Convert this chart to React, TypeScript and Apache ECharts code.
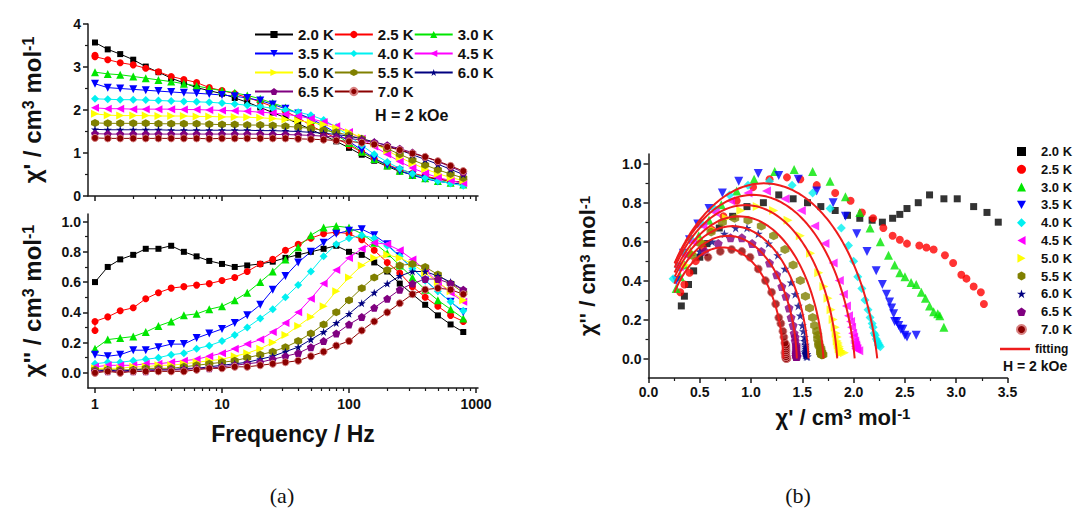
import React, { useEffect, useRef } from 'react';
import * as echarts from 'echarts';

// ac frequencies (Hz), ten points per decade
const FREQ = [1, 1.26, 1.58, 2, 2.51, 3.16, 3.98, 5.01, 6.31, 7.94, 10, 12.6, 15.8, 20, 25.1, 31.6, 39.8, 50.1, 63.1, 79.4, 100, 126, 158, 200, 251, 316, 398, 501, 631, 794];
// the 2.5 K run starts with a repeated 1 Hz point
const FREQ_25 = [1, 1, 1.26, 1.58, 2, 2.51, 3.16, 3.98, 5.01, 6.31, 7.94, 10, 12.6, 15.8, 20, 25.1, 31.6, 39.8, 50.1, 63.1, 79.4, 100, 126, 158, 200, 251, 316, 398, 501, 631, 794];

const TEMPS = ['2.0 K', '2.5 K', '3.0 K', '3.5 K', '4.0 K', '4.5 K', '5.0 K', '5.5 K', '6.0 K', '6.5 K', '7.0 K'];
const COLORS = ['#000000', '#ff0000', '#00e600', '#0000ff', '#00f0f0', '#ff00ff', '#ffff00', '#808000', '#000080', '#800080', '#8b0000'];
const SYMBOLS = [
  'rect',
  'circle',
  'triangle',
  'path://M0,0L10,0L5,9Z',
  'diamond',
  'path://M9,0L9,10L0,5Z',
  'path://M0,0L0,10L9,5Z',
  'path://M5,0L9.33,2.5L9.33,7.5L5,10L0.67,7.5L0.67,2.5Z',
  'path://M5,0L6.2,3.6L10,3.6L6.9,5.8L8.1,9.5L5,7.2L1.9,9.5L3.1,5.8L0,3.6L3.8,3.6Z',
  'path://M5,0L9.8,3.5L7.9,9.1L2.1,9.1L0.2,3.5Z',
  'circle',
];

// in-phase susceptibility chi' (cm3 mol-1)
const CHI1_20 = [3.57, 3.41, 3.30, 3.17, 3.01, 2.88, 2.74, 2.63, 2.52, 2.45, 2.38, 2.28, 2.18, 2.06, 1.94, 1.82, 1.68, 1.55, 1.41, 1.27, 1.12, 0.96, 0.82, 0.69, 0.57, 0.50, 0.44, 0.39, 0.35, 0.32];
const CHI1_25 = [3.27, 3.24, 3.17, 3.10, 3.05, 2.97, 2.89, 2.78, 2.71, 2.64, 2.52, 2.45, 2.38, 2.29, 2.19, 2.08, 1.97, 1.82, 1.64, 1.48, 1.35, 1.18, 1.02, 0.86, 0.73, 0.62, 0.53, 0.46, 0.40, 0.35, 0.31];
const CHI1_30 = [2.88, 2.84, 2.82, 2.78, 2.74, 2.70, 2.66, 2.61, 2.56, 2.50, 2.45, 2.40, 2.34, 2.26, 2.16, 2.06, 1.92, 1.77, 1.60, 1.42, 1.23, 1.03, 0.86, 0.71, 0.59, 0.49, 0.41, 0.35, 0.31, 0.27];
const CHI1_35 = [2.61, 2.52, 2.50, 2.48, 2.46, 2.44, 2.42, 2.40, 2.39, 2.37, 2.35, 2.32, 2.28, 2.22, 2.13, 2.03, 1.92, 1.80, 1.64, 1.46, 1.27, 1.07, 0.88, 0.72, 0.59, 0.48, 0.40, 0.34, 0.30, 0.27];
const CHI1_40 = [2.26, 2.25, 2.24, 2.24, 2.23, 2.22, 2.21, 2.20, 2.19, 2.18, 2.16, 2.14, 2.11, 2.08, 2.04, 2.00, 1.95, 1.88, 1.77, 1.60, 1.40, 1.18, 0.97, 0.79, 0.64, 0.52, 0.42, 0.35, 0.29, 0.24];
const CHI1_45 = [2.05, 2.03, 2.03, 2.02, 2.02, 2.02, 2.02, 2.01, 2.01, 2.00, 1.99, 1.98, 1.97, 1.95, 1.93, 1.90, 1.86, 1.80, 1.72, 1.62, 1.49, 1.33, 1.15, 0.97, 0.80, 0.65, 0.53, 0.43, 0.36, 0.30];
const CHI1_50 = [1.91, 1.88, 1.87, 1.87, 1.87, 1.86, 1.86, 1.86, 1.85, 1.85, 1.84, 1.84, 1.83, 1.82, 1.80, 1.78, 1.75, 1.71, 1.66, 1.58, 1.48, 1.36, 1.22, 1.06, 0.90, 0.76, 0.63, 0.52, 0.43, 0.36];
const CHI1_55 = [1.70, 1.69, 1.69, 1.69, 1.69, 1.68, 1.68, 1.68, 1.68, 1.67, 1.66, 1.66, 1.65, 1.65, 1.64, 1.62, 1.60, 1.57, 1.53, 1.48, 1.41, 1.33, 1.22, 1.10, 0.97, 0.84, 0.72, 0.61, 0.51, 0.42];
const CHI1_60 = [1.55, 1.54, 1.54, 1.54, 1.54, 1.54, 1.53, 1.53, 1.53, 1.53, 1.53, 1.53, 1.53, 1.52, 1.52, 1.51, 1.50, 1.48, 1.46, 1.43, 1.39, 1.33, 1.26, 1.17, 1.07, 0.96, 0.85, 0.74, 0.62, 0.50];
const CHI1_65 = [1.45, 1.44, 1.44, 1.44, 1.44, 1.44, 1.44, 1.44, 1.44, 1.44, 1.44, 1.44, 1.44, 1.44, 1.43, 1.43, 1.42, 1.41, 1.39, 1.37, 1.34, 1.30, 1.25, 1.18, 1.10, 1.01, 0.91, 0.80, 0.68, 0.55];
const CHI1_70 = [1.35, 1.34, 1.34, 1.34, 1.34, 1.34, 1.34, 1.34, 1.34, 1.33, 1.34, 1.34, 1.34, 1.34, 1.34, 1.34, 1.33, 1.32, 1.31, 1.29, 1.27, 1.24, 1.20, 1.14, 1.07, 0.99, 0.91, 0.81, 0.70, 0.58];

// out-of-phase susceptibility chi'' (cm3 mol-1)
const CHI2_20 = [0.60, 0.70, 0.75, 0.78, 0.82, 0.82, 0.84, 0.80, 0.77, 0.74, 0.72, 0.70, 0.71, 0.72, 0.735, 0.76, 0.78, 0.80, 0.82, 0.84, 0.80, 0.78, 0.73, 0.67, 0.59, 0.52, 0.45, 0.38, 0.32, 0.27];
const CHI2_25 = [0.28, 0.34, 0.37, 0.41, 0.43, 0.49, 0.53, 0.56, 0.57, 0.58, 0.59, 0.61, 0.63, 0.67, 0.72, 0.75, 0.81, 0.85, 0.89, 0.92, 0.93, 0.92, 0.88, 0.81, 0.73, 0.66, 0.57, 0.50, 0.44, 0.38, 0.34];
const CHI2_30 = [0.16, 0.22, 0.23, 0.24, 0.27, 0.31, 0.34, 0.38, 0.39, 0.42, 0.44, 0.48, 0.53, 0.60, 0.67, 0.75, 0.83, 0.91, 0.96, 0.97, 0.96, 0.92, 0.86, 0.79, 0.71, 0.63, 0.55, 0.48, 0.42, 0.36];
const CHI2_35 = [0.12, 0.11, 0.12, 0.15, 0.15, 0.17, 0.19, 0.19, 0.23, 0.26, 0.29, 0.33, 0.38, 0.45, 0.55, 0.64, 0.73, 0.80, 0.86, 0.92, 0.94, 0.95, 0.91, 0.85, 0.77, 0.69, 0.61, 0.54, 0.47, 0.40];
const CHI2_40 = [0.06, 0.07, 0.07, 0.08, 0.09, 0.10, 0.12, 0.13, 0.16, 0.18, 0.21, 0.25, 0.30, 0.36, 0.42, 0.50, 0.58, 0.67, 0.77, 0.85, 0.89, 0.91, 0.89, 0.84, 0.77, 0.69, 0.61, 0.54, 0.47, 0.41];
const CHI2_45 = [0.04, 0.05, 0.05, 0.05, 0.06, 0.06, 0.07, 0.08, 0.09, 0.11, 0.13, 0.16, 0.19, 0.22, 0.27, 0.33, 0.40, 0.49, 0.59, 0.68, 0.76, 0.82, 0.86, 0.85, 0.81, 0.75, 0.68, 0.60, 0.53, 0.47];
const CHI2_50 = [0.03, 0.03, 0.03, 0.04, 0.04, 0.05, 0.05, 0.06, 0.07, 0.08, 0.09, 0.11, 0.13, 0.16, 0.20, 0.25, 0.31, 0.37, 0.44, 0.54, 0.63, 0.71, 0.76, 0.78, 0.76, 0.72, 0.66, 0.60, 0.54, 0.48];
const CHI2_55 = [0.02, 0.02, 0.02, 0.02, 0.03, 0.03, 0.03, 0.04, 0.05, 0.06, 0.07, 0.08, 0.10, 0.12, 0.14, 0.17, 0.21, 0.26, 0.32, 0.40, 0.48, 0.56, 0.63, 0.68, 0.71, 0.72, 0.70, 0.65, 0.59, 0.53];
const CHI2_60 = [0.01, 0.02, 0.01, 0.02, 0.02, 0.02, 0.02, 0.03, 0.03, 0.04, 0.05, 0.06, 0.07, 0.09, 0.11, 0.14, 0.17, 0.22, 0.27, 0.33, 0.39, 0.46, 0.53, 0.59, 0.64, 0.67, 0.67, 0.64, 0.60, 0.55];
const CHI2_65 = [0.01, 0.01, 0.01, 0.01, 0.01, 0.02, 0.02, 0.02, 0.03, 0.03, 0.04, 0.05, 0.06, 0.07, 0.09, 0.11, 0.13, 0.17, 0.21, 0.26, 0.32, 0.37, 0.43, 0.49, 0.55, 0.59, 0.62, 0.62, 0.59, 0.55];
const CHI2_70 = [0.00, 0.01, 0.00, 0.01, 0.01, 0.01, 0.01, 0.01, 0.02, 0.03, 0.03, 0.04, 0.04, 0.05, 0.06, 0.07, 0.08, 0.11, 0.14, 0.18, 0.21, 0.28, 0.34, 0.40, 0.46, 0.52, 0.55, 0.56, 0.55, 0.52];

const FREQS = [FREQ, FREQ_25, FREQ, FREQ, FREQ, FREQ, FREQ, FREQ, FREQ, FREQ, FREQ];
const CHI1 = [CHI1_20, CHI1_25, CHI1_30, CHI1_35, CHI1_40, CHI1_45, CHI1_50, CHI1_55, CHI1_60, CHI1_65, CHI1_70];
const CHI2 = [CHI2_20, CHI2_25, CHI2_30, CHI2_35, CHI2_40, CHI2_45, CHI2_50, CHI2_55, CHI2_60, CHI2_65, CHI2_70];

// generalized Debye fit parameters (4.0 - 7.0 K)
const FIT_CHI_T = [2.23, 2.01, 1.84, 1.706, 1.56, 1.446, 1.315];
const FIT_CHI_S = [0.02, 0.03, 0.05, 0.06, 0.08, 0.10, 0.13];
const FIT_ALPHA = [0.13, 0.104, 0.081, 0.076, 0.054, 0.042, 0.024];
const FIT_CHI_END = 0.25;

// axis ticks
const LOG_MAJOR = [1, 10, 100, 1000];
const LOG_MINOR = [2, 3, 4, 5, 6, 7, 8, 9, 20, 30, 40, 50, 60, 70, 80, 90, 200, 300, 400, 500, 600, 700, 800, 900];
const CHI2_MAJOR = [0, 0.2, 0.4, 0.6, 0.8, 1.0];
const CHI2_MINOR = [0.1, 0.3, 0.5, 0.7, 0.9];

const FONT = '"Liberation Sans", Arial, Helvetica, sans-serif';
const AXIS_COLOR = '#1a1a1a';
const TITLE_Y1 = "{t|χ' / cm}{s|3}{t| mol}{s|-1}";
const TITLE_Y2 = "{t|χ'' / cm}{s|3}{t| mol}{s|-1}";

function coleColeArc(chiT: number, chiS: number, alpha: number, chiEnd: number) {
  const pts: number[][] = [];
  const beta = 1 - alpha;
  const c = Math.cos((beta * Math.PI) / 2);
  const s = Math.sin((beta * Math.PI) / 2);
  const d = chiT - chiS;
  for (let u = -9; u <= 9; u += 0.04) {
    const r = Math.exp(beta * u);
    const re = 1 + r * c;
    const im = r * s;
    const den = re * re + im * im;
    const x = chiS + (d * re) / den;
    const y = (d * im) / den;
    if (x < chiEnd) break;
    pts.push([x, y]);
  }
  return pts;
}

const titleRich = (size: number, supSize: number) => ({
  t: { fontSize: size, fontWeight: 'bold', fontFamily: FONT, color: '#111' },
  s: { fontSize: supSize, fontWeight: 'bold', fontFamily: FONT, color: '#111', verticalAlign: 'top' },
});

const labelStyle = (fmt?: (v: number) => string) => ({
  color: '#111',
  fontSize: 14,
  fontWeight: 'bold',
  fontFamily: FONT,
  formatter: fmt,
});

const axisLine = { show: true, onZero: false, lineStyle: { color: AXIS_COLOR, width: 1.5 } };

function logAxes(gridIndex: number, showLabels: boolean, name?: string) {
  const main: any = {
    type: 'log',
    logBase: 10,
    gridIndex,
    position: 'bottom',
    min: 0.881,
    max: 1037,
    axisLine,
    splitLine: { show: false },
    axisTick: { show: true, inside: false, length: 5, customValues: LOG_MAJOR, lineStyle: { color: AXIS_COLOR, width: 1.5 } },
    axisLabel: { show: showLabels, margin: 9, customValues: LOG_MAJOR, ...labelStyle((v: number) => String(Math.round(v))) },
  };
  if (name) {
    main.name = name;
    main.nameLocation = 'middle';
    main.nameGap = 34;
    main.nameTextStyle = { fontSize: 23, fontWeight: 'bold', fontFamily: FONT, color: '#111', padding: [0, 0, 0, 20] };
  }
  const minor = {
    type: 'log',
    logBase: 10,
    gridIndex,
    position: 'bottom',
    min: 0.881,
    max: 1037,
    axisLine: { show: false, onZero: false },
    splitLine: { show: false },
    axisLabel: { show: false },
    axisTick: { show: true, inside: false, length: 3, customValues: LOG_MINOR, lineStyle: { color: AXIS_COLOR, width: 1.2 } },
  };
  return [main, minor];
}

function chi2Axes(gridIndex: number, nameGap: number, size: number, supSize: number) {
  const main = {
    type: 'value',
    gridIndex,
    position: 'left',
    min: -0.1,
    max: 1.05,
    axisLine,
    splitLine: { show: false },
    axisTick: { show: true, inside: false, length: 5, customValues: CHI2_MAJOR, lineStyle: { color: AXIS_COLOR, width: 1.5 } },
    axisLabel: { margin: 7, customValues: CHI2_MAJOR, ...labelStyle((v: number) => v.toFixed(1)) },
    name: TITLE_Y2,
    nameLocation: 'middle',
    nameRotate: 90,
    nameGap,
    nameTextStyle: { rich: titleRich(size, supSize) },
  };
  const minor = {
    type: 'value',
    gridIndex,
    position: 'left',
    min: -0.1,
    max: 1.05,
    axisLine: { show: false, onZero: false },
    splitLine: { show: false },
    axisLabel: { show: false },
    axisTick: { show: true, inside: false, length: 3, customValues: CHI2_MINOR, lineStyle: { color: AXIS_COLOR, width: 1.2 } },
  };
  return [main, minor];
}

function markerStyle(i: number) {
  const style: any = { color: COLORS[i] };
  if (i === 10) {
    style.borderColor = '#d88080';
    style.borderWidth = 1;
  }
  return style;
}

function symbolSize(i: number) {
  if (SYMBOLS[i] === 'rect') return 6;
  if (SYMBOLS[i].startsWith('path') || SYMBOLS[i] === 'triangle' || SYMBOLS[i] === 'diamond') return 8;
  return 7;
}

function buildOption() {
  const series: any[] = [];

  TEMPS.forEach((name, i) => {
    series.push({
      type: 'line',
      name,
      xAxisIndex: 0,
      yAxisIndex: 0,
      data: FREQS[i].map((f, j) => [f, CHI1[i][j]]),
      symbol: SYMBOLS[i],
      symbolSize: symbolSize(i),
      itemStyle: markerStyle(i),
      lineStyle: { color: COLORS[i], width: 1 },
    });
  });

  TEMPS.forEach((name, i) => {
    series.push({
      type: 'line',
      name,
      xAxisIndex: 2,
      yAxisIndex: 1,
      data: FREQS[i].map((f, j) => [f, CHI2[i][j]]),
      symbol: SYMBOLS[i],
      symbolSize: symbolSize(i),
      itemStyle: markerStyle(i),
      lineStyle: { color: COLORS[i], width: 1 },
    });
  });

  TEMPS.forEach((name, i) => {
    series.push({
      type: 'scatter',
      name,
      xAxisIndex: 4,
      yAxisIndex: 3,
      clip: true,
      data: CHI1[i].map((v, j) => [v, CHI2[i][j]]),
      symbol: SYMBOLS[i],
      symbolSize: symbolSize(i) + 1,
      itemStyle: markerStyle(i),
    });
  });

  FIT_CHI_T.forEach((chiT, k) => {
    series.push({
      type: 'line',
      name: 'fitting',
      xAxisIndex: 4,
      yAxisIndex: 3,
      data: coleColeArc(chiT, FIT_CHI_S[k], FIT_ALPHA[k], FIT_CHI_END),
      symbol: 'none',
      showSymbol: false,
      z: 5,
      itemStyle: { color: '#ee1c1c' },
      lineStyle: { color: '#ee1c1c', width: 2 },
    });
  });

  const legendRows = [
    ['2.0 K', '2.5 K', '3.0 K'],
    ['3.5 K', '4.0 K', '4.5 K'],
    ['5.0 K', '5.5 K', '6.0 K'],
    ['6.5 K', '7.0 K'],
  ];
  const rowCenters = [30, 49, 68, 87];
  const legends: any[] = legendRows.map((row, r) => ({
    left: 249,
    top: rowCenters[r] - 8,
    orient: 'horizontal',
    itemWidth: 38,
    itemHeight: 9,
    itemGap: 0,
    selectedMode: false,
    textStyle: { fontSize: 15, fontWeight: 'bold', fontFamily: FONT, color: '#111', width: 37 },
    data: row.map((name) => ({ name })),
  }));
  legends.push({
    left: 1011,
    top: 140,
    orient: 'vertical',
    itemWidth: 9,
    itemHeight: 9,
    itemGap: 4.8,
    selectedMode: false,
    textStyle: { fontSize: 13, fontWeight: 'bold', fontFamily: FONT, color: '#111', padding: [0, 0, 0, 10] },
    data: TEMPS.map((name, i) => ({ name, icon: SYMBOLS[i] })),
  });
  legends.push({
    left: 995,
    top: 338,
    orient: 'vertical',
    itemWidth: 30,
    itemHeight: 2.5,
    selectedMode: false,
    textStyle: { fontSize: 12, fontWeight: 'bold', fontFamily: FONT, color: '#111' },
    data: [{ name: 'fitting', icon: 'rect' }],
  });

  const [x0, x1] = logAxes(0, false);
  const [x2, x3] = logAxes(1, true, 'Frequency / Hz');
  const [y1, y2] = chi2Axes(1, 44, 24, 16);
  const [y3, y4] = chi2Axes(2, 50, 22, 15);

  return {
    animation: false,
    backgroundColor: '#ffffff',
    grid: [
      { left: 88, top: 24, width: 390, height: 172 },
      { left: 88, top: 214, width: 390, height: 174 },
      { left: 648.5, top: 154, width: 359, height: 224 },
    ],
    legend: legends,
    xAxis: [
      x0,
      x1,
      x2,
      x3,
      {
        type: 'value',
        gridIndex: 2,
        position: 'bottom',
        min: 0,
        max: 3.5,
        interval: 0.5,
        axisLine,
        splitLine: { show: false },
        axisTick: { show: true, inside: false, length: 5, lineStyle: { color: AXIS_COLOR, width: 1.5 } },
        minorTick: { show: true, splitNumber: 2, length: 3, lineStyle: { color: AXIS_COLOR, width: 1.2 } },
        axisLabel: { margin: 7, ...labelStyle((v: number) => v.toFixed(1)) },
        name: TITLE_Y1,
        nameLocation: 'middle',
        nameGap: 28,
        nameTextStyle: { rich: titleRich(22, 15), padding: [0, 0, 0, 30] },
      },
    ],
    yAxis: [
      {
        type: 'value',
        gridIndex: 0,
        position: 'left',
        min: 0,
        max: 4,
        interval: 1,
        axisLine,
        splitLine: { show: false },
        axisTick: { show: true, inside: false, length: 5, lineStyle: { color: AXIS_COLOR, width: 1.5 } },
        minorTick: { show: true, splitNumber: 2, length: 3, lineStyle: { color: AXIS_COLOR, width: 1.2 } },
        axisLabel: { margin: 7, ...labelStyle((v: number) => String(v)) },
        name: TITLE_Y1,
        nameLocation: 'middle',
        nameRotate: 90,
        nameGap: 44,
        nameTextStyle: { rich: titleRich(24, 16) },
      },
      y1,
      y2,
      y3,
      y4,
    ],
    graphic: [
      { type: 'text', x: 375, y: 115, style: { text: 'H = 2 kOe', fill: '#111', font: `bold 16px ${FONT}`, textAlign: 'left', textVerticalAlign: 'middle' } },
      { type: 'text', x: 1003, y: 366, style: { text: 'H = 2 kOe', fill: '#111', font: `bold 14px ${FONT}`, textAlign: 'left', textVerticalAlign: 'middle' } },
      { type: 'text', x: 282, y: 495, style: { text: '(a)', fill: '#111', font: '22px "Liberation Serif", "Times New Roman", serif', textAlign: 'center', textVerticalAlign: 'middle' } },
      { type: 'text', x: 798, y: 495, style: { text: '(b)', fill: '#111', font: '22px "Liberation Serif", "Times New Roman", serif', textAlign: 'center', textVerticalAlign: 'middle' } },
    ],
    series,
  };
}

export default function App() {
  const ref = useRef<HTMLDivElement>(null);
  useEffect(() => {
    if (!ref.current) return;
    const chart = echarts.init(ref.current, undefined, { renderer: 'svg' });
    chart.setOption(buildOption() as any);
    return () => chart.dispose();
  }, []);
  return (
    <div
      ref={ref}
      style={{ position: 'fixed', left: 0, top: 0, width: 1075, height: 510, background: '#ffffff' }}
    />
  );
}
